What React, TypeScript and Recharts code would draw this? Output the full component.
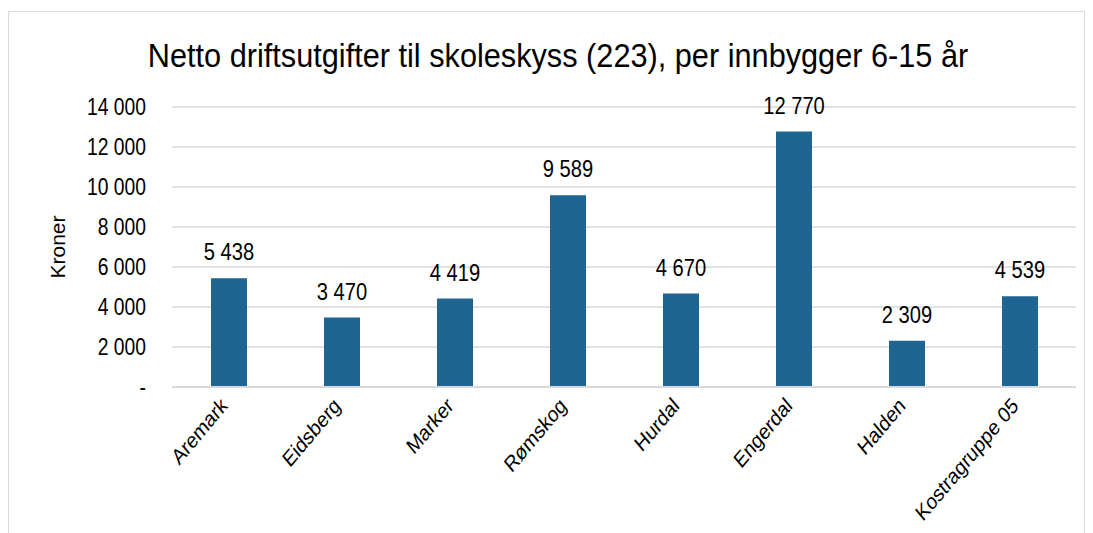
import React from 'react';
import { BarChart, Bar, XAxis, YAxis, CartesianGrid, LabelList, Label } from 'recharts';

const categories = ['Aremark', 'Eidsberg', 'Marker', 'Rømskog', 'Hurdal', 'Engerdal', 'Halden', 'Kostragruppe 05'];
const values = [5438, 3470, 4419, 9589, 4670, 12770, 2309, 4539];
const yTicks = [0, 2000, 4000, 6000, 8000, 10000, 12000, 14000];

const data = categories.map((name, i) => ({ name, value: values[i] }));

const SANS = '"Liberation Sans", Arial, sans-serif';
const BAR_COLOR = '#1f6591';
const GRID = '#d9d9d9';
// the original picture is squeezed sideways, so text is drawn a bit narrow
const SQUEEZE = 0.84;

const fmt = (v: number) => (v === 0 ? '-' : String(v).replace(/\B(?=(\d{3})+(?!\d))/g, '\u00a0'));

const XTick = (props: any) => {
    const { x, y, payload } = props;
    return (
        <g transform={`translate(${x}, ${y + 12}) scale(${SQUEEZE}, 1) rotate(-45)`}>
            <text x={0} y={0} textAnchor="end" fontFamily={SANS} fontSize={22} fill="#000">
                {payload.value}
            </text>
        </g>
    );
};

const YTick = (props: any) => {
    const { x, y, payload } = props;
    return (
        <g transform={`translate(${x}, ${y}) scale(${SQUEEZE}, 1)`}>
            <text x={0} y={0} textAnchor="end" dominantBaseline="central" fontFamily={SANS} fontSize={23} fill="#000">
                {fmt(payload.value)}
            </text>
        </g>
    );
};

const ValueLabel = (props: any) => {
    const { x, y, width, value } = props;
    const cx = x + width / 2;
    return (
        <g transform={`translate(${cx}, ${y - 18}) scale(${SQUEEZE}, 1)`}>
            <text x={0} y={0} textAnchor="middle" fontFamily={SANS} fontSize={24} fill="#000">
                {fmt(Number(value))}
            </text>
        </g>
    );
};

export default function App() {
    return (
        <div
            style={{
                position: 'relative',
                width: 1075,
                height: 540,
                marginTop: 3,
                border: `1px solid ${GRID}`,
                background: '#fff',
            }}
        >
            <div
                style={{
                    position: 'absolute',
                    left: 549,
                    top: 27,
                    whiteSpace: 'nowrap',
                    transform: 'translateX(-50%) scaleX(0.93)',
                    fontFamily: SANS,
                    fontSize: 33,
                    lineHeight: 1,
                    color: '#000',
                }}
            >
                Netto driftsutgifter til skoleskyss (223), per innbygger 6-15 år
            </div>
            <BarChart
                width={1075}
                height={520}
                data={data}
                margin={{ top: 95, right: 8, left: 20, bottom: 15 }}
            >
                <CartesianGrid vertical={false} stroke={GRID} strokeWidth={1.5} />
                <XAxis
                    dataKey="name"
                    interval={0}
                    height={130}
                    tickLine={false}
                    axisLine={{ stroke: GRID, strokeWidth: 2 }}
                    tick={<XTick />}
                />
                <YAxis
                    width={143}
                    domain={[0, 14000]}
                    ticks={yTicks}
                    axisLine={false}
                    tickLine={false}
                    tickSize={0}
                    tickMargin={26}
                    tick={<YTick />}
                >
                    <Label
                        content={(p: any) => {
                            const vb = p.viewBox;
                            const cx = vb.x + 28;
                            const cy = vb.y + vb.height / 2;
                            return (
                                <text
                                    x={cx}
                                    y={cy}
                                    textAnchor="middle"
                                    dominantBaseline="central"
                                    transform={`rotate(-90, ${cx}, ${cy})`}
                                    fontFamily={SANS}
                                    fontSize={21}
                                    fill="#000"
                                >
                                    Kroner
                                </text>
                            );
                        }}
                    />
                </YAxis>
                <Bar dataKey="value" fill={BAR_COLOR} barSize={36} isAnimationActive={false}>
                    <LabelList dataKey="value" content={<ValueLabel />} />
                </Bar>
            </BarChart>
        </div>
    );
}
